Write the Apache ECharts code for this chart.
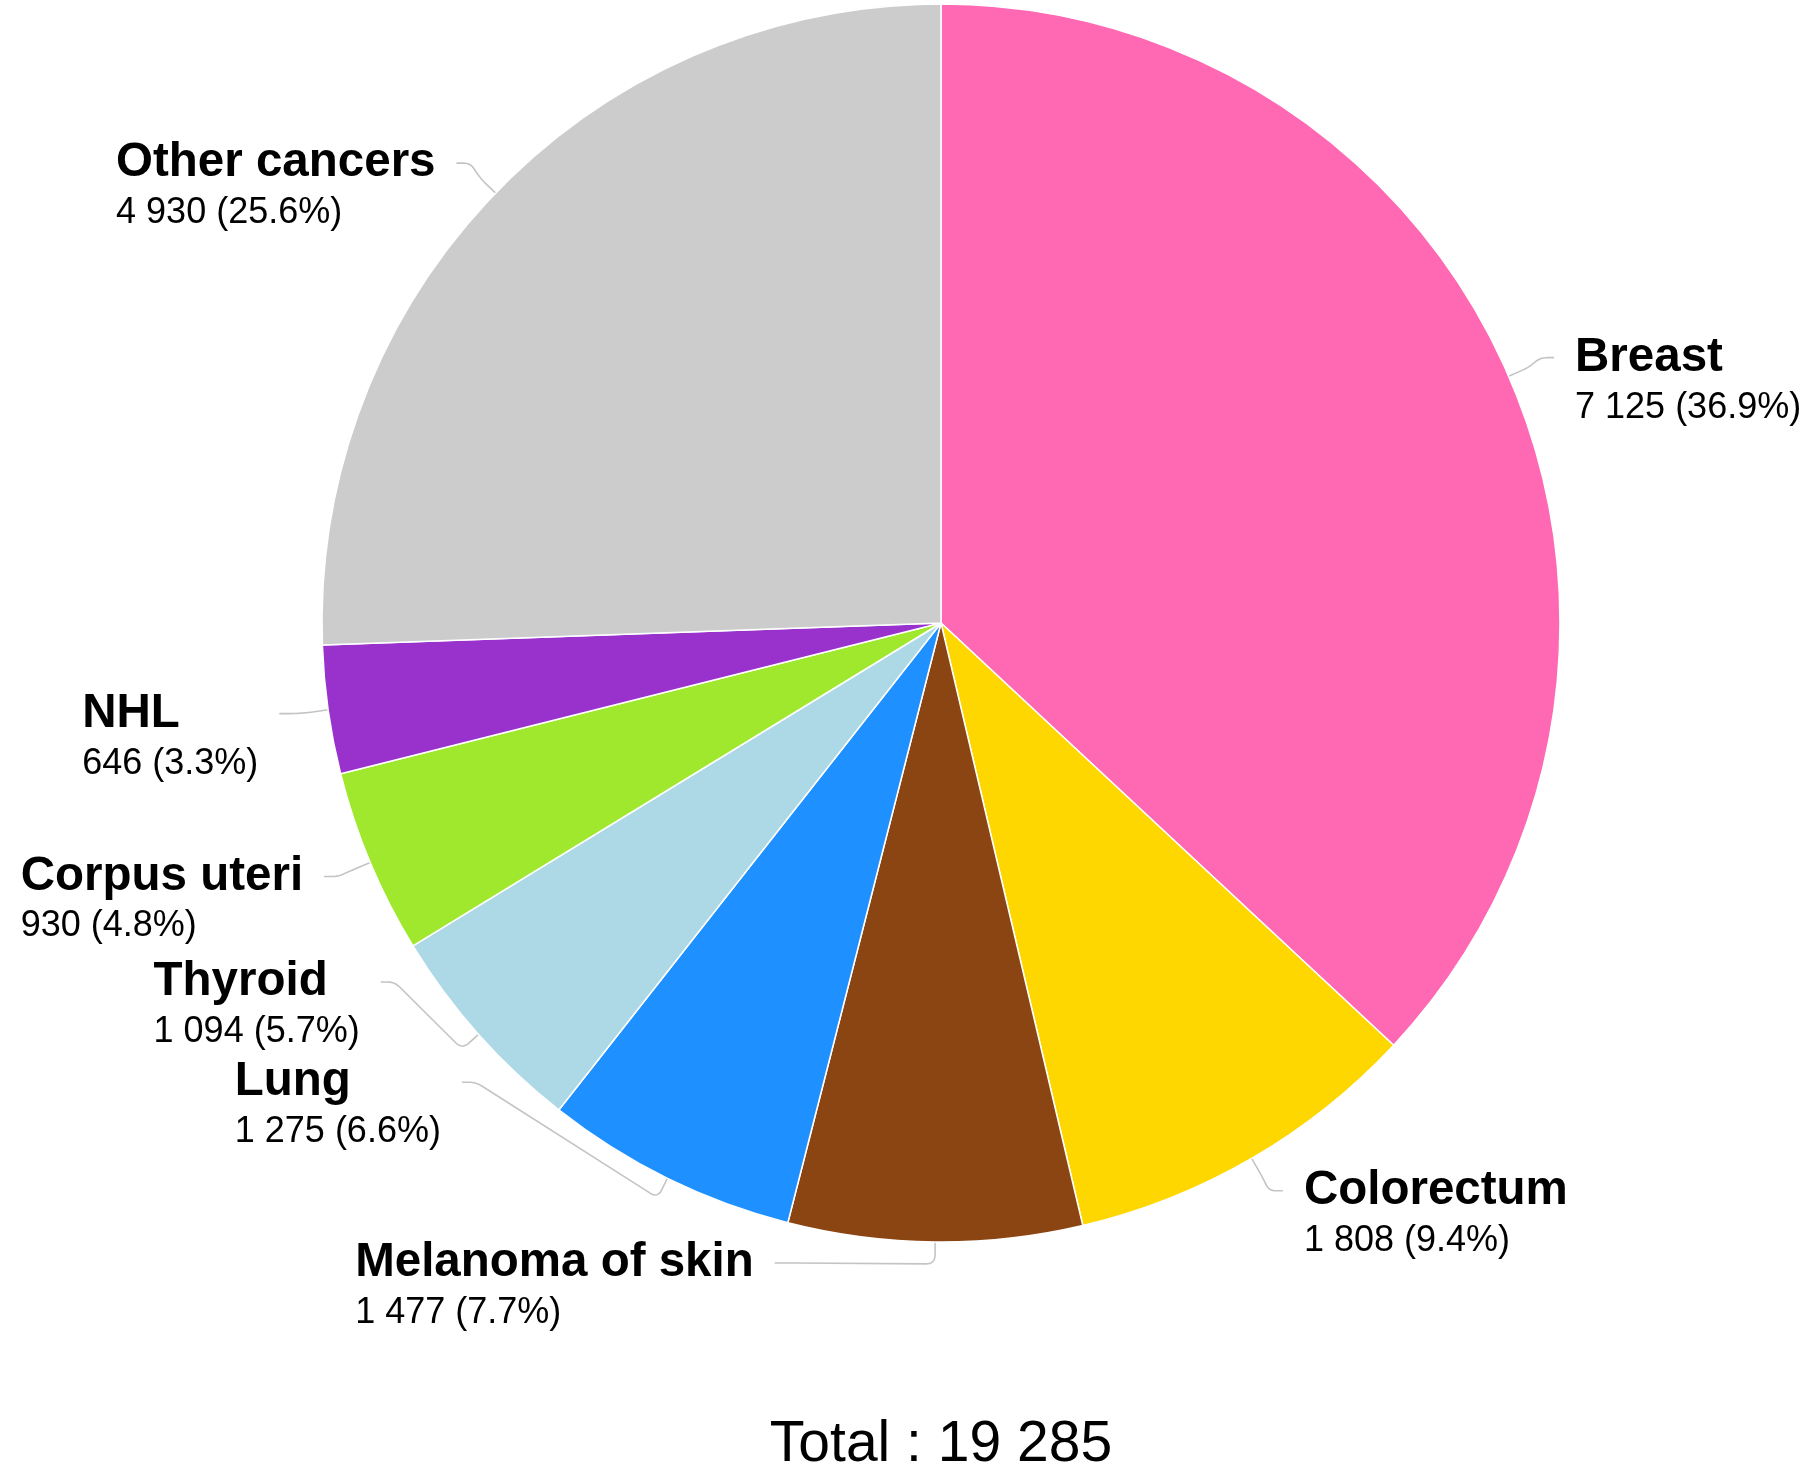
<!DOCTYPE html>
<html>
<head>
<meta charset="utf-8">
<script src="https://cdn.jsdelivr.net/npm/echarts@6/dist/echarts.min.js"></script>
<style>
html,body{margin:0;padding:0;background:#fff;}
#chart{width:1808px;height:1470px;}
</style>
</head>
<body>
<div id="chart"></div>
<script>
// ---- data ----
const categories = ['Breast', 'Colorectum', 'Melanoma of skin', 'Lung', 'Thyroid', 'Corpus uteri', 'NHL', 'Other cancers'];
const values = [7125, 1808, 1477, 1275, 1094, 930, 646, 4930];
const colors = ['#FF69B4', '#FFD700', '#8B4513', '#1E90FF', '#ADD8E6', '#A0E82E', '#9932CC', '#CCCCCC'];

// ---- layout / style ----
const FONT = '"Liberation Sans", Arial, sans-serif';
const CENTER = [941, 623];
const RADIUS = 619;
const LABEL_R = RADIUS + 49;
const BEND = 22, STUB = 14, GAP = 21;
// vertical nudges applied to labels to keep them from overlapping
const labelNudge = [1, -10, -28, -140, -85, -5, -3, 4];

const total = values.reduce((a, b) => a + b, 0);
function fmt(n) { return String(n).replace(/\B(?=(\d{3})+(?!\d))/g, ' '); }

// polyline with rounded corners, sampled into points
function roundedPath(pts, rad) {
  const out = [pts[0].slice()];
  for (let i = 1; i < pts.length - 1; i++) {
    const a = pts[i - 1], b = pts[i], c = pts[i + 1];
    const l1 = Math.hypot(b[0] - a[0], b[1] - a[1]);
    const l2 = Math.hypot(c[0] - b[0], c[1] - b[1]);
    const r = Math.min(rad, l1 / 2, l2 / 2);
    if (!l1 || !l2) { out.push(b.slice()); continue; }
    const p = [b[0] + (a[0] - b[0]) * r / l1, b[1] + (a[1] - b[1]) * r / l1];
    const q = [b[0] + (c[0] - b[0]) * r / l2, b[1] + (c[1] - b[1]) * r / l2];
    const N = 8;
    for (let k = 0; k <= N; k++) {
      const t = k / N, u = 1 - t;
      out.push([u * u * p[0] + 2 * u * t * b[0] + t * t * q[0], u * u * p[1] + 2 * u * t * b[1] + t * t * q[1]]);
    }
  }
  out.push(pts[pts.length - 1].slice());
  return out;
}

const chart = echarts.init(document.getElementById('chart'), null, { renderer: 'canvas' });

const option = {
  backgroundColor: '#ffffff',
  animation: false,
  title: {
    text: 'Total : ' + fmt(total),
    left: CENTER[0],
    textAlign: 'center',
    top: 1415,
    padding: 0,
    textStyle: { fontFamily: FONT, fontSize: 57, fontWeight: 'normal', color: '#000', lineHeight: 60 }
  },
  series: [{
    type: 'pie',
    center: CENTER,
    radius: RADIUS,
    startAngle: 90,
    clockwise: true,
    avoidLabelOverlap: false,
    data: categories.map((c, i) => ({ name: c, value: values[i], itemStyle: { color: colors[i] } })),
    itemStyle: { borderColor: '#ffffff', borderWidth: 1.5 },
    label: {
      show: true,
      position: 'outside',
      fontFamily: FONT,
      formatter: p => '{n|' + p.name + '}\n{v|' + fmt(p.value) + ' (' + (p.value / total * 100).toFixed(1) + '%)}',
      rich: {
        n: { fontFamily: FONT, fontWeight: 'bold', fontSize: 47.5, lineHeight: 48, color: '#000', align: 'left' },
        v: { fontFamily: FONT, fontSize: 36, lineHeight: 52, color: '#000', align: 'left' }
      }
    },
    labelLine: {
      show: true,
      length: 40,
      length2: 10,
      smooth: false,
      lineStyle: { color: '#c4c4c4', width: 1.6 }
    },
    labelLayout: function (p) {
      const i = p.dataIndex;
      const e = p.labelLinePoints[0];
      const dx = e[0] - CENTER[0], dy = e[1] - CENTER[1];
      const d = Math.hypot(dx, dy);
      const ux = dx / d, uy = dy / d;
      const left = ux < 0;
      const y = CENTER[1] + uy * LABEL_R + labelNudge[i];
      const yForX = y + 7 * Math.max(0, uy);
      const hx = Math.sqrt(Math.max(0, LABEL_R * LABEL_R - (yForX - CENTER[1]) * (yForX - CENTER[1])));
      const endX = CENTER[0] + (left ? -hx : hx);
      const bend = [e[0] + ux * BEND, e[1] + uy * BEND];
      const stub = [endX + (left ? STUB : -STUB), y];
      const w = p.labelRect.width;
      return {
        x: left ? endX - GAP - w : endX + GAP,
        y: y - 24,
        align: 'left',
        verticalAlign: 'top',
        labelLinePoints: roundedPath([[e[0], e[1]], bend, stub, [endX, y]], 9)
      };
    }
  }]
};
chart.setOption(option);
</script>
</body>
</html>
